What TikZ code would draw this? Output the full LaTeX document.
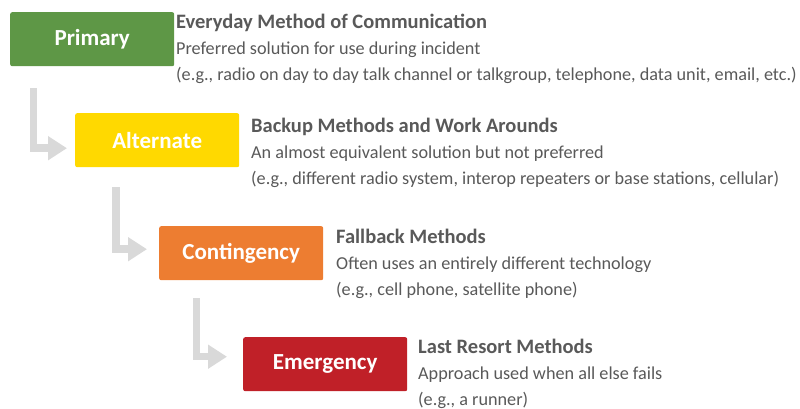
\documentclass[tikz,border=0pt]{standalone}
\usepackage{fontspec}
\setmainfont{Carlito}
\usetikzlibrary{arrows.meta}
\definecolor{primgreen}{RGB}{94,151,70}
\definecolor{altyellow}{RGB}{255,217,0}
\definecolor{contorange}{RGB}{237,125,49}
\definecolor{emerred}{RGB}{192,32,40}
\definecolor{textgray}{RGB}{89,89,89}
\definecolor{arrowgray}{RGB}{217,217,217}
\begin{document}
\begin{tikzpicture}[x=1pt,y=-1pt,
  level/.style={rounded corners=2pt, minimum width=164pt, minimum height=54pt,
    inner sep=0pt, anchor=north west, text=white,
    font=\fontsize{23}{26}\selectfont\bfseries},
  note/.style={anchor=base west, align=left, inner sep=0pt, text=textgray,
    font=\fontsize{18.2}{26}\selectfont},
  flow/.style={arrowgray, line width=7.5pt, line join=miter,
    -{Triangle[width=23pt,length=19pt]}}]
\useasboundingbox (0,0) rectangle (800,408);
% the four levels
\foreach \nm/\col/\x/\y/\lbl in {prim/primgreen/10/12/Primary,
    alt/altyellow/75/113/Alternate, cont/contorange/159/226/Contingency,
    emer/emerred/243/337/Emergency}
  \node[level, fill=\col] (\nm) at (\x,\y) {\lbl};
% bent arrows down to the next level
\foreach \a/\b/\dx/\dt/\dh/\ds in {prim/alt/23.5/22/-8/8,
    alt/cont/41/20/4/12, cont/emer/37.5/18/7.5/16}
  \draw[flow] ([xshift=\dx pt,yshift=-\dt pt]\a.south west)
    |- ([xshift=-\ds pt,yshift=\dh pt]\b.west);
% descriptions (base = last line)
\node[note] (primtxt) at (176,80) {{\fontsize{20.5}{26}\selectfont\bfseries Everyday Method of Communication}\\
  Preferred solution for use during incident\\
  (e.g., radio on day to day talk channel or talkgroup, telephone, data unit, email, etc.)};
\node[note] (alttxt) at (251,184) {{\fontsize{20.5}{26}\selectfont\bfseries Backup Methods and Work Arounds}\\
  An almost equivalent solution but not preferred\\
  (e.g., different radio system, interop repeaters or base stations, cellular)};
\node[note] (conttxt) at (336,295) {{\fontsize{20.5}{26}\selectfont\bfseries Fallback Methods}\\
  Often uses an entirely different technology\\
  (e.g., cell phone, satellite phone)};
\node[note] (emertxt) at (418,405) {{\fontsize{20.5}{26}\selectfont\bfseries Last Resort Methods}\\
  Approach used when all else fails\\
  (e.g., a runner)};
\end{tikzpicture}
\end{document}
